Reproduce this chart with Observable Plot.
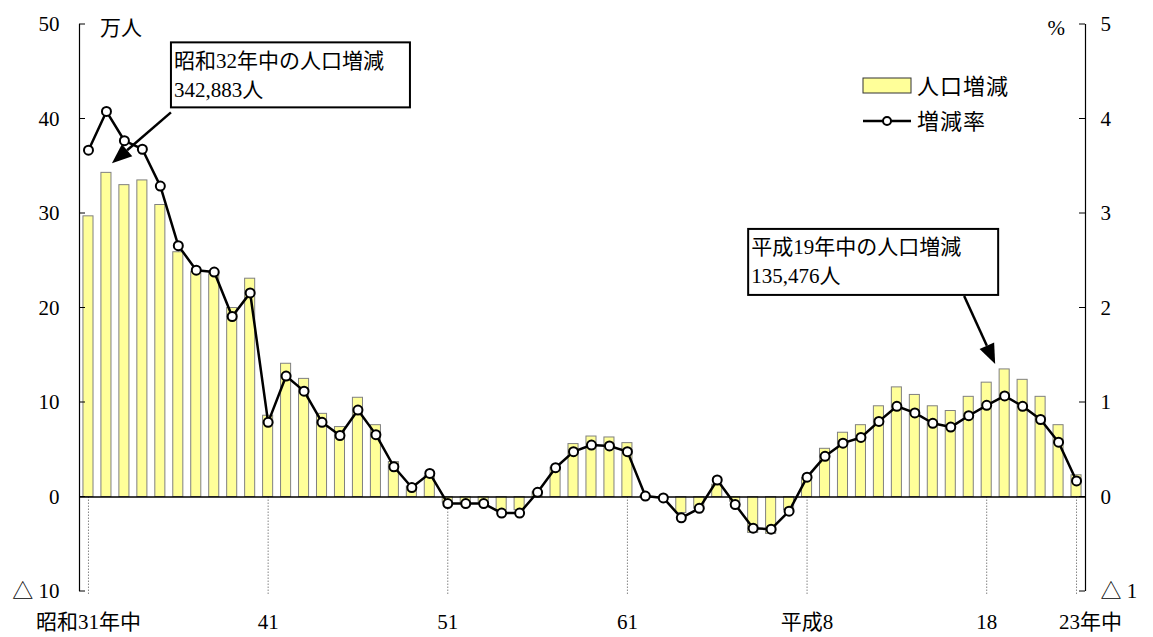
<!DOCTYPE html>
<html><head><meta charset="utf-8">
<script src="https://cdn.jsdelivr.net/npm/d3@7"></script>
<script src="https://cdn.jsdelivr.net/npm/@observablehq/plot@0.6"></script>
<style>body{margin:0;background:#fff}</style>
</head><body><div id="chart"></div>
<script>
// categories: calendar years (昭和31年 = 1956 … 平成23年 = 2011)
const years = [1956,1957,1958,1959,1960,1961,1962,1963,1964,1965,
  1966,1967,1968,1969,1970,1971,1972,1973,1974,1975,
  1976,1977,1978,1979,1980,1981,1982,1983,1984,1985,
  1986,1987,1988,1989,1990,1991,1992,1993,1994,1995,
  1996,1997,1998,1999,2000,2001,2002,2003,2004,2005,
  2006,2007,2008,2009,2010,2011];
// 人口増減 (万人)
const popChange = [29.7,34.3,33.0,33.5,30.9,25.9,23.8,23.7,20.0,23.1,
  8.6,14.1,12.5,8.8,7.4,10.5,7.6,3.7,1.1,2.2,
  -0.6,-0.6,-0.6,-1.4,-1.4,0.5,3.1,5.6,6.4,6.3,
  5.7,0.1,-0.1,-1.7,-1.2,1.3,-0.5,-3.8,-3.9,-1.4,
  2.0,5.1,6.8,7.6,9.6,11.6,10.8,9.6,9.1,10.6,
  12.1,13.5,12.4,10.6,7.6,2.3];
// 増減率 (%)
const rate = [3.67,4.08,3.77,3.68,3.29,2.66,2.40,2.38,1.91,2.16,
  0.79,1.28,1.12,0.79,0.65,0.92,0.66,0.32,0.10,0.25,
  -0.07,-0.07,-0.07,-0.17,-0.17,0.05,0.31,0.48,0.55,0.54,
  0.48,0.01,-0.01,-0.22,-0.12,0.18,-0.08,-0.33,-0.34,-0.15,
  0.21,0.43,0.57,0.63,0.80,0.96,0.89,0.78,0.74,0.86,
  0.97,1.07,0.96,0.82,0.58,0.17];
// tick labels
const leftTicks = [-10,0,10,20,30,40,50];          // 万人
const rightTicks = [-1,0,1,2,3,4,5];               // %
const xLabelYears = [1956,1966,1976,1986,1996,2006];
const xLabels = ["昭和31年中","41","51","61","平成8","18"];
const xLastYear = 2011;
const xLastLabel = "23年中";
const guideYears = [1956,1966,1976,1986,1996,2006,2011];
const leftUnit = "万人";
const rightUnit = "%";
const legendLabels = ["人口増減","増減率"];
const notes = [
  {year: 1957, lines: ["昭和32年中の人口増減","342,883人"]},
  {year: 2007, lines: ["平成19年中の人口増減","135,476人"]}
];

const RATE_K = 10; // right axis (%) mapped onto left axis (万人)
const data = years.map((year, i) => ({year, pop: popChange[i], rate: rate[i]}));
const fam = "'Liberation Serif','Noto Sans CJK JP',serif";
const fmt = v => v < 0 ? "△ " + Math.abs(v) : String(v);

function decorations(index, scales, values, dims) {
  const {x, y} = scales;
  const g = d3.create("svg:g").attr("font-family", fam).attr("fill", "black").attr("text-anchor", "start");
  const xl = x(1955.5), xr = x(2011.5);
  // inward ticks
  for (const t of leftTicks) g.append("line").attr("x1", xl).attr("x2", xl + 6).attr("y1", y(t)).attr("y2", y(t)).attr("stroke", "black");
  for (const t of rightTicks) g.append("line").attr("x1", xr).attr("x2", xr - 6).attr("y1", y(t * RATE_K)).attr("y2", y(t * RATE_K)).attr("stroke", "black");
  // units
  g.append("text").attr("x", xl + 21).attr("y", y(50) + 4).attr("dy", "0.32em").attr("font-size", 21).text(leftUnit);
  g.append("text").attr("x", xr - 20).attr("y", y(50) + 4).attr("dy", "0.32em").attr("text-anchor", "end").attr("font-size", 21).text(rightUnit);
  // legend
  const lx = 863, ly = 78;
  g.append("rect").attr("x", lx).attr("y", ly).attr("width", 48).attr("height", 15).attr("fill", "#FFFF99").attr("stroke", "#333");
  g.append("text").attr("x", lx + 54).attr("y", ly + 8).attr("dy", "0.35em").attr("font-size", 22).attr("letter-spacing", 1).text(legendLabels[0]);
  g.append("line").attr("x1", lx).attr("x2", lx + 48).attr("y1", ly + 43).attr("y2", ly + 43).attr("stroke", "black").attr("stroke-width", 2.5);
  g.append("circle").attr("cx", lx + 24).attr("cy", ly + 43).attr("r", 4).attr("fill", "white").attr("stroke", "black").attr("stroke-width", 2);
  g.append("text").attr("x", lx + 54).attr("y", ly + 43).attr("dy", "0.35em").attr("font-size", 22).attr("letter-spacing", 1).text(legendLabels[1]);
  // annotations
  const cfg = [
    {box: [65, -130, 239, 65], start: [65, -60], tip: [6, -9]},
    {box: [-256, -140, 250, 66], start: [-40, -73], tip: [-9, -5]}
  ];
  notes.forEach((n, k) => {
    const d = data.find(e => e.year === n.year);
    const px = x(n.year), py = y(d.pop);
    const c = cfg[k];
    const bx = px + c.box[0], by = py + c.box[1];
    g.append("rect").attr("x", bx).attr("y", by).attr("width", c.box[2]).attr("height", c.box[3]).attr("fill", "white").attr("stroke", "black").attr("stroke-width", 2);
    n.lines.forEach((t, j) => g.append("text").attr("x", bx + 3).attr("y", by + 18 + j * 29).attr("dy", "0.35em").attr("font-size", 21).text(t));
    const sx = px + c.start[0], sy = py + c.start[1], tx = px + c.tip[0], ty = py + c.tip[1];
    const ang = Math.atan2(ty - sy, tx - sx), L = 20, W = 8;
    const bxh = tx - L * Math.cos(ang), byh = ty - L * Math.sin(ang);
    g.append("line").attr("x1", sx).attr("y1", sy).attr("x2", bxh).attr("y2", byh).attr("stroke", "black").attr("stroke-width", 2.5);
    const p1 = [bxh + W * Math.sin(ang), byh - W * Math.cos(ang)];
    const p2 = [bxh - W * Math.sin(ang), byh + W * Math.cos(ang)];
    g.append("path").attr("d", `M${tx},${ty}L${p1}L${p2}Z`).attr("fill", "black");
  });
  return g.node();
}

const chart = Plot.plot({
  width: 1153, height: 637,
  marginLeft: 79, marginRight: 68, marginTop: 24, marginBottom: 46,
  style: {fontFamily: fam, fontSize: "21px", background: "white", color: "black"},
  x: {type: "linear", domain: [1955.5, 2011.5], axis: null},
  y: {domain: [-10, 50], axis: null},
  marks: [
    Plot.ruleX(guideYears, {x: d => d, y1: 0, y2: -10.4, stroke: "#777", strokeWidth: 0.9, strokeDasharray: "1.5,1.5"}),
    Plot.rectY(data, {x1: d => d.year - 0.28, x2: d => d.year + 0.28, y: "pop", fill: "#FFFF99", stroke: "#808080", strokeWidth: 1}),
    Plot.ruleY([0], {x1: 1955.5, x2: 2011.5, stroke: "black", strokeWidth: 1.3}),
    Plot.ruleX([1955.5, 2011.5], {y1: -10, y2: 50, stroke: "black", strokeWidth: 1.2}),
    Plot.axisY(leftTicks, {anchor: "left", tickSize: 0, tickPadding: 20, tickFormat: fmt, label: null, fontSize: 21}),
    Plot.axisY(rightTicks.map(t => t * RATE_K), {anchor: "right", tickSize: 0, tickPadding: 15, tickFormat: d => fmt(d / RATE_K), label: null, fontSize: 21}),
    Plot.text(xLabelYears, {x: d => d, text: (d, i) => xLabels[i], frameAnchor: "bottom", dy: 37, fontSize: 21}),
    Plot.text([xLastYear], {x: d => d, text: () => xLastLabel, frameAnchor: "bottom", dy: 37, dx: 14, fontSize: 21}),
    Plot.line(data, {x: "year", y: d => d.rate * RATE_K, stroke: "black", strokeWidth: 2.5}),
    Plot.dot(data, {x: "year", y: d => d.rate * RATE_K, r: 4.5, fill: "white", stroke: "black", strokeWidth: 2}),
    decorations
  ]
});
document.getElementById("chart").appendChild(chart);
</script>
</body></html>
